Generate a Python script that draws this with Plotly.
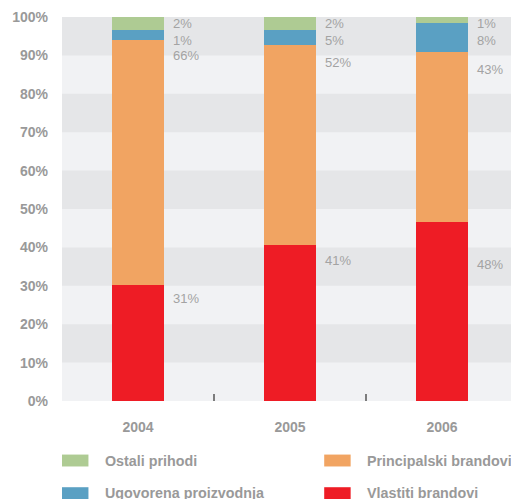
import plotly.graph_objects as go

# data (share of revenue, %)
years = ["2004", "2005", "2006"]
vlastiti = [30.3, 40.7, 46.6]
principalski = [63.7, 52.0, 44.3]
ugovorena = [2.6, 3.9, 7.5]
ostali = [3.4, 3.4, 1.6]

# printed labels next to each bar (top to bottom)
label_ostali = ["2%", "2%", "1%"]
label_ugovorena = ["1%", "5%", "8%"]
label_principalski = ["66%", "52%", "43%"]
label_vlastiti = ["31%", "41%", "48%"]

y_ticks = list(range(0, 101, 10))

GREEN = "#aecb93"
BLUE = "#5aa0c3"
ORANGE = "#f1a462"
RED = "#ee1c25"
FONT = "Liberation Sans, Arial, sans-serif"

fig = go.Figure()
series = [
    ("Vlastiti brandovi", vlastiti, RED),
    ("Principalski brandovi", principalski, ORANGE),
    ("Ugovorena proizvodnja", ugovorena, BLUE),
    ("Ostali prihodi", ostali, GREEN),
]
for name, vals, col in series:
    fig.add_trace(go.Bar(x=years, y=vals, name=name, marker_color=col,
                         marker_line_width=0, width=0.34, showlegend=False))

# alternating background bands
for lo in range(10, 100, 20):
    fig.add_shape(type="rect", xref="paper", yref="y", x0=0, x1=1, y0=lo, y1=lo + 10,
                  fillcolor="#e5e6e8", line_width=0, layer="below")

# small ticks between categories
for xb in [0.5, 1.5]:
    fig.add_shape(type="line", xref="x", yref="paper", x0=xb, x1=xb, y0=0, y1=0.018,
                  line=dict(color="#555555", width=1.5))

# value labels right of the bars
label_y = [
    (label_ostali, [98.2, 98.2, 98.2]),
    (label_ugovorena, [94.0, 94.0, 94.0]),
    (label_principalski, [89.9, 88.1, 86.3]),
    (label_vlastiti, [26.7, 36.5, 35.5]),
]
for texts, ys in label_y:
    for i, (t, yy) in enumerate(zip(texts, ys)):
        fig.add_annotation(x=i + 0.17, y=yy, xref="x", yref="y", text=t, showarrow=False,
                           xanchor="left", yanchor="middle", xshift=7,
                           font=dict(family=FONT, size=13, color="#a3a3a3"))

# manual legend in two columns
legend_items = [
    ("Ostali prihodi", GREEN, 0, -0.155),
    ("Principalski brandovi", ORANGE, 0.575, -0.155),
    ("Ugovorena proizvodnja", BLUE, 0, -0.24),
    ("Vlastiti brandovi", RED, 0.575, -0.24),
]
for name, col, lx, ly in legend_items:
    fig.add_shape(type="rect", xref="paper", yref="paper", x0=lx, x1=lx + 0.058,
                  y0=ly - 0.0155, y1=ly + 0.0155, fillcolor=col, line_width=0)
    fig.add_annotation(x=lx + 0.089, y=ly, xref="paper", yref="paper", text="<b>%s</b>" % name,
                       showarrow=False, xanchor="left", yanchor="middle",
                       font=dict(family=FONT, size=14.3, color="#999999"))

# page body adds 8px margin, so the figure is a bit smaller than the window
fig.update_layout(
    width=511, height=491,
    margin=dict(l=54, r=1, t=7, b=98),
    barmode="stack",
    plot_bgcolor="#f1f2f4",
    paper_bgcolor="white",
    font=dict(family=FONT),
    showlegend=False,
)
fig.update_xaxes(range=[-0.5, 2.5], showgrid=False, zeroline=False, ticks="",
                 tickfont=dict(family=FONT, size=14, color="#999999"),
                 ticktext=["<b>%s</b>" % y for y in years], tickvals=years,
                 ticklabelstandoff=16)
fig.update_yaxes(range=[0, 100], showgrid=False, zeroline=False, ticks="",
                 tickvals=y_ticks, ticktext=["<b>%d%%</b>" % v for v in y_ticks],
                 tickfont=dict(family=FONT, size=14, color="#999999"),
                 ticklabelstandoff=13, ticklabeloverflow="allow")

fig.write_html("out.html")
